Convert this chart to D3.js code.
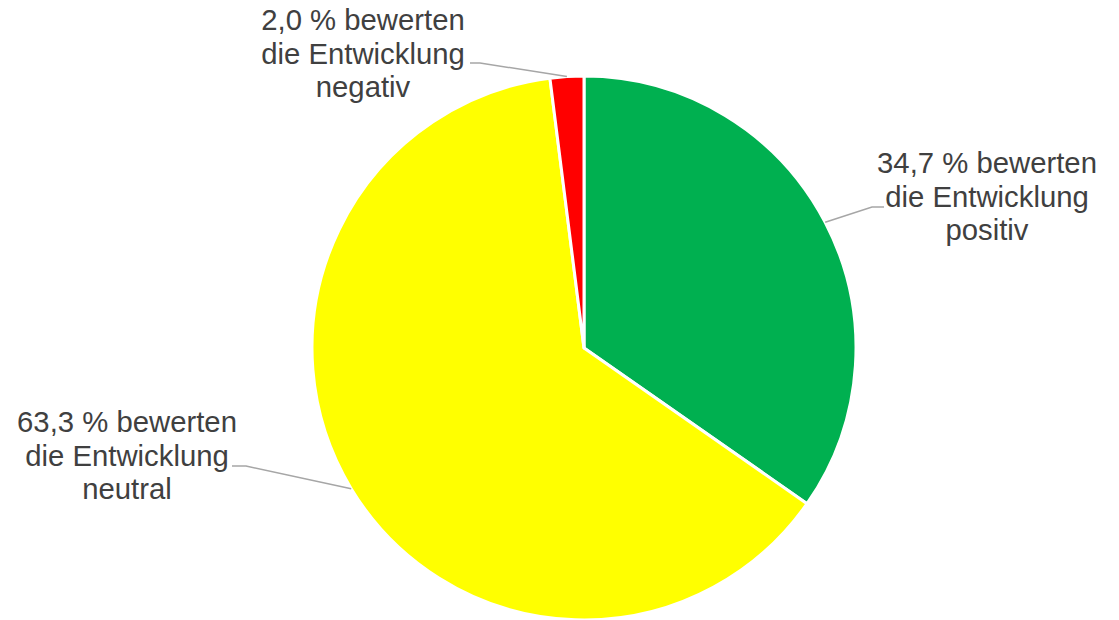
<!DOCTYPE html>
<html>
<head>
<meta charset="utf-8">
<script src="https://cdn.jsdelivr.net/npm/d3@7"></script>
<style>
  body { margin: 0; background: #fff; }
</style>
</head>
<body>
<div id="chart"></div>
<script>
// data
let categories = ["positiv", "neutral", "negativ"];
let values = [34.7, 63.3, 2.0];
let labels = [
  ["34,7 % bewerten", "die Entwicklung", "positiv"],
  ["63,3 % bewerten", "die Entwicklung", "neutral"],
  ["2,0 % bewerten", "die Entwicklung", "negativ"],
];
let colors = ["#00B050", "#FFFF00", "#FF0000"];

let svgWidth = 1119;
let svgHeight = 620;
let cx = 584;
let cy = 348;
let radius = 272;
let fontSize = 29.3;
let lineGap = 33.5;

// where each label block sits (center x, first baseline y) and the elbow of its leader
let labelPos = [
  { x: 987, y: 173, elbow: [884, 207], knee: [872, 207] },
  { x: 127, y: 432, elbow: [232, 466], knee: [246, 466] },
  { x: 363, y: 30, elbow: [470, 63], knee: [480, 63] },
];

let svg = d3
  .select("#chart")
  .append("svg")
  .attr("width", svgWidth)
  .attr("height", svgHeight);

let pie = d3.pie().sort(null).value((d) => d);
let arcs = pie(values);

let arc = d3.arc().innerRadius(0).outerRadius(radius);
let edge = d3.arc().innerRadius(radius).outerRadius(radius);

let g = svg.append("g").attr("transform", "translate(" + cx + "," + cy + ")");

g.selectAll("path.slice")
  .data(arcs)
  .enter()
  .append("path")
  .attr("class", "slice")
  .attr("d", arc)
  .attr("fill", (d, i) => colors[i])
  .attr("stroke", "#fff")
  .attr("stroke-width", 3)
  .attr("stroke-linejoin", "round");

// leader lines, from the middle of each slice's rim to its label
svg
  .selectAll("polyline.leader")
  .data(arcs)
  .enter()
  .append("polyline")
  .attr("class", "leader")
  .attr("points", (d, i) => {
    let p = edge.centroid(d);
    let lp = labelPos[i];
    return [
      [cx + p[0], cy + p[1]],
      lp.knee,
      lp.elbow,
    ].map((q) => q.join(",")).join(" ");
  })
  .attr("fill", "none")
  .attr("stroke", "#A6A6A6")
  .attr("stroke-width", 1.5);

let text = svg
  .selectAll("text.label")
  .data(labels)
  .enter()
  .append("text")
  .attr("class", "label")
  .attr("text-anchor", "middle")
  .attr("font-family", "'Liberation Sans', Arial, sans-serif")
  .attr("font-size", fontSize)
  .attr("fill", "#404040");

text
  .selectAll("tspan")
  .data((d, i) => d.map((t) => ({ t: t, i: i })))
  .enter()
  .append("tspan")
  .attr("x", (d) => labelPos[d.i].x)
  .attr("y", (d, j) => labelPos[d.i].y + j * lineGap)
  .text((d) => d.t);
</script>
</body>
</html>
